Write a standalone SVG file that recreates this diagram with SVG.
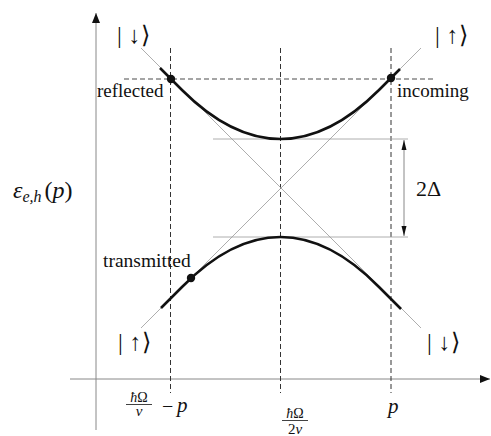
<svg xmlns="http://www.w3.org/2000/svg" width="491" height="436" viewBox="0 0 491 436">
<style>
.axis{stroke:#888;stroke-width:1;fill:none}
.thin{stroke:#999;stroke-width:0.8;fill:none}
.vdash{stroke:#333;stroke-width:1;stroke-dasharray:5 3;fill:none}
.hdash{stroke:#888;stroke-width:1.5;stroke-dasharray:5 3;fill:none}
.band{stroke:#111;stroke-width:2.6;fill:none;stroke-linecap:butt}
.dot{fill:#111}
</style>
<defs>
<marker id="ah" viewBox="0 0 10 10" refX="10" refY="5" markerWidth="10" markerHeight="10" markerUnits="userSpaceOnUse" orient="auto">
<path d="M0,1 L10,5 L0,9 Z" fill="#111"/>
</marker>
<marker id="ahs" viewBox="0 0 10 8" refX="10" refY="4" markerWidth="10" markerHeight="8" markerUnits="userSpaceOnUse" orient="auto">
<path d="M0,1.5 L10,4 L0,6.5 Z" fill="#111"/>
</marker>
</defs>
<rect width="491" height="436" fill="#fff"/>
<g id="axes">
<line class="axis" x1="96" y1="430" x2="96" y2="13" marker-end="url(#ah)"/>
<line class="axis" x1="70" y1="379" x2="490" y2="379" marker-end="url(#ah)"/>
</g>
<g id="guides">
<line class="vdash" x1="170.5" y1="48" x2="170.5" y2="393"/>
<line class="vdash" x1="280.5" y1="48" x2="280.5" y2="393"/>
<line class="vdash" x1="391" y1="48" x2="391" y2="393"/>
<line class="hdash" x1="124" y1="79" x2="435" y2="79"/>
<line class="thin" x1="141" y1="48" x2="421" y2="328"/>
<line class="thin" x1="141" y1="328" x2="421" y2="48"/>
<line class="thin" x1="213" y1="139" x2="408" y2="139"/>
<line class="thin" x1="213" y1="237" x2="408" y2="237"/>
</g>
<g id="gap-arrow">
<line x1="404" y1="188" x2="404" y2="140" stroke="#888" stroke-width="1" marker-end="url(#ahs)"/>
<line x1="404" y1="188" x2="404" y2="236" stroke="#888" stroke-width="1" marker-end="url(#ahs)"/>
<text x="416" y="196" font-size="22" font-family="Liberation Serif, serif" fill="#111">2Δ</text>
</g>
<g id="upper-band">
<path class="band" d="M160,68 L182,90 Q231,139 280.5,139 Q330,139 379,90 L400,69"/>
<circle class="dot" cx="171" cy="79" r="4.2"/>
<circle class="dot" cx="391" cy="78" r="4.2"/>
</g>
<g id="lower-band">
<path class="band" d="M161,308 L182,287 Q231,237 280.5,237 Q330,237 379,287 L401,309"/>
<circle class="dot" cx="191" cy="278" r="4.2"/>
</g>
<g id="labels" font-family="Liberation Serif, serif" fill="#111">
<text x="117" y="43" font-size="24" font-family="Liberation Serif, serif" fill="#111" textLength="33" lengthAdjust="spacing">| ↓︎⟩</text>
<text x="435" y="43" font-size="24" font-family="Liberation Serif, serif" fill="#111" textLength="33" lengthAdjust="spacing">| ↑︎⟩</text>
<text x="118" y="350" font-size="24" font-family="Liberation Serif, serif" fill="#111" textLength="33" lengthAdjust="spacing">| ↑︎⟩</text>
<text x="427" y="350" font-size="24" font-family="Liberation Serif, serif" fill="#111" textLength="33" lengthAdjust="spacing">| ↓︎⟩</text>
<text x="97" y="97" font-size="19" font-family="Liberation Serif, serif">reflected</text>
<text x="397" y="97" font-size="19" font-family="Liberation Serif, serif">incoming</text>
<text x="103" y="267" font-size="19.5" font-family="Liberation Serif, serif">transmitted</text>
<text x="13" y="198" font-size="24" font-family="Liberation Serif, serif"><tspan font-style="italic">ε</tspan><tspan font-style="italic" font-size="16" dy="4">e,h</tspan><tspan dy="-4" dx="3">(</tspan><tspan font-style="italic">p</tspan><tspan>)</tspan></text>
</g>
<g id="ticks" font-family="Liberation Serif, serif" fill="#111">
<text x="139" y="401.5" font-size="14" text-anchor="middle" font-family="Liberation Serif, serif"><tspan font-style="italic">ħ</tspan>Ω</text>
<line x1="126" y1="404.5" x2="152" y2="404.5" stroke="#111" stroke-width="0.8"/>
<text x="139" y="416" font-size="15" text-anchor="middle" font-style="italic" font-family="Liberation Serif, serif">v</text>
<text x="162" y="413" font-size="20" font-family="Liberation Serif, serif">−</text>
<text x="177" y="412" font-size="21" font-style="italic" font-family="Liberation Serif, serif">p</text>
<text x="295" y="417.5" font-size="14" text-anchor="middle" font-family="Liberation Serif, serif"><tspan font-style="italic">ħ</tspan>Ω</text>
<line x1="282" y1="420.5" x2="308" y2="420.5" stroke="#111" stroke-width="0.8"/>
<text x="295" y="434" font-size="15" text-anchor="middle" font-family="Liberation Serif, serif">2<tspan font-style="italic">v</tspan></text>
<text x="388" y="413" font-size="21" font-style="italic" font-family="Liberation Serif, serif">p</text>
</g>
</svg>
